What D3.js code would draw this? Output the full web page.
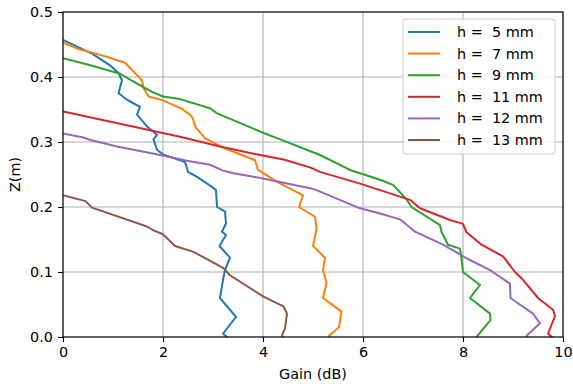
<!DOCTYPE html>
<html>
<head>
<meta charset="utf-8">
<script src="https://cdn.jsdelivr.net/npm/d3@7"></script>
<style>
  body { margin: 0; background: #fff; }
  text { font-family: "DejaVu Sans", sans-serif; }
</style>
</head>
<body>
<script>
// Figure size and plot area
var width = 573,
    height = 386;
var margin = {left: 63, right: 10, top: 12, bottom: 49};
var fontSize = "14.4px";

// Series labels (h in mm) and colours
var labels = ["h =  5 mm", "h =  7 mm", "h =  9 mm", "h =  11 mm", "h =  12 mm", "h =  13 mm"];
var colors = ["#1f77b4", "#ff7f0e", "#2ca02c", "#d62728", "#9467bd", "#8c564b"];

// Each series: [gain (dB), Z (m)]
var h5 = [[0,0.457],[0.58,0.436],[0.94,0.418],[1.11,0.406],[1.18,0.395],[1.11,0.375],[1.28,0.365],
  [1.54,0.354],[1.48,0.342],[1.68,0.324],[1.88,0.311],[1.81,0.304],[1.88,0.288],[2.0,0.281],
  [2.44,0.269],[2.48,0.26],[2.5,0.254],[2.69,0.246],[2.98,0.231],[3.06,0.226],[3.08,0.2],
  [3.24,0.193],[3.26,0.175],[3.18,0.162],[3.26,0.157],[3.13,0.14],[3.34,0.122],[3.24,0.103],
  [3.2,0.088],[3.14,0.06],[3.46,0.031],[3.2,0.005],[3.28,0]];
var h7 = [[0,0.453],[0.31,0.443],[0.88,0.431],[1.24,0.422],[1.58,0.395],[1.61,0.383],[1.71,0.37],
  [2.0,0.364],[2.38,0.351],[2.54,0.342],[2.59,0.337],[2.65,0.323],[2.84,0.306],[3.18,0.292],
  [3.84,0.272],[3.9,0.257],[4.3,0.238],[4.8,0.218],[4.72,0.2],[5.04,0.185],[5.07,0.168],
  [5.06,0.162],[5.0,0.14],[5.24,0.122],[5.2,0.103],[5.27,0.083],[5.2,0.06],[5.57,0.039],
  [5.52,0.015],[5.34,0.003],[5.3,0]];
var h9 = [[0,0.429],[0.55,0.418],[1.14,0.405],[1.41,0.393],[1.78,0.377],[2.0,0.37],[2.34,0.366],
  [2.94,0.352],[3.08,0.344],[4.04,0.313],[4.28,0.306],[5.14,0.28],[5.74,0.257],[6.34,0.242],
  [6.6,0.234],[6.87,0.212],[6.97,0.2],[7.54,0.172],[7.57,0.162],[7.7,0.142],[7.94,0.136],
  [7.97,0.121],[8.0,0.1],[8.34,0.08],[8.14,0.06],[8.54,0.036],[8.55,0.026],[8.27,0]];
var h11 = [[0,0.347],[2.34,0.308],[3.14,0.293],[3.94,0.28],[4.41,0.273],[4.94,0.261],[5.14,0.254],
  [5.94,0.236],[6.94,0.211],[7.14,0.198],[7.74,0.18],[8.0,0.174],[8.07,0.161],[8.37,0.142],
  [8.8,0.124],[9.04,0.1],[9.2,0.088],[9.5,0.06],[9.8,0.042],[9.84,0.032],[9.7,0.005],[9.78,0]];
var h12 = [[0,0.313],[0.41,0.307],[0.55,0.303],[1.08,0.293],[1.94,0.28],[2.48,0.271],[2.94,0.265],
  [3.2,0.256],[3.41,0.252],[4.0,0.244],[4.94,0.229],[5.07,0.226],[5.94,0.198],[6.34,0.19],
  [6.74,0.181],[7.04,0.162],[7.6,0.142],[8.1,0.12],[8.54,0.103],[8.94,0.082],[8.95,0.06],
  [9.4,0.036],[9.54,0.021],[9.27,0.002],[9.3,0]];
var h13 = [[0,0.218],[0.45,0.209],[0.58,0.199],[1.68,0.17],[1.81,0.164],[2.0,0.158],[2.24,0.14],
  [2.61,0.131],[3.21,0.106],[3.34,0.095],[4.01,0.062],[4.41,0.047],[4.48,0.036],[4.44,0.013],
  [4.38,0.003],[4.4,0]];
var series = [h5, h7, h9, h11, h12, h13];

// Tick values
var xTicks = [0, 2, 4, 6, 8, 10];
var yTicks = [0.0, 0.1, 0.2, 0.3, 0.4, 0.5];

var x = d3.scaleLinear().domain([0, 10]).range([margin.left, width - margin.right]);
var y = d3.scaleLinear().domain([0, 0.5]).range([height - margin.bottom, margin.top]);

var svg = d3.select("body").append("svg")
    .attr("width", width)
    .attr("height", height);

// Grid lines
svg.append("g")
    .selectAll("line")
    .data(xTicks)
    .enter()
    .append("line")
    .attr("x1", d => x(d)).attr("x2", d => x(d))
    .attr("y1", y(0)).attr("y2", y(0.5))
    .attr("stroke", "#b0b0b0")
    .attr("stroke-width", 1.1);
svg.append("g")
    .selectAll("line")
    .data(yTicks)
    .enter()
    .append("line")
    .attr("x1", x(0)).attr("x2", x(10))
    .attr("y1", d => y(d)).attr("y2", d => y(d))
    .attr("stroke", "#b0b0b0")
    .attr("stroke-width", 1.1);

// Clip the lines to the axes box
svg.append("clipPath")
    .attr("id", "plot")
    .append("rect")
    .attr("x", x(0)).attr("y", y(0.5))
    .attr("width", x(10) - x(0)).attr("height", y(0) - y(0.5));

var line = d3.line()
    .x(d => x(d[0]))
    .y(d => y(d[1]));

svg.append("g")
    .attr("clip-path", "url(#plot)")
    .selectAll("path")
    .data(series)
    .enter()
    .append("path")
    .attr("fill", "none")
    .attr("stroke", (d, i) => colors[i])
    .attr("stroke-width", 2)
    .attr("stroke-linejoin", "round")
    .attr("stroke-linecap", "square")
    .attr("d", line);

// Axes
var xAxis = svg.append("g")
    .attr("transform", "translate(0," + y(0) + ")")
    .call(d3.axisBottom(x).tickValues(xTicks).tickFormat(d3.format("d")).tickSize(5).tickPadding(5));
var yAxis = svg.append("g")
    .attr("transform", "translate(" + x(0) + ",0)")
    .call(d3.axisLeft(y).tickValues(yTicks).tickFormat(d3.format(".1f")).tickSize(5).tickPadding(5));

[xAxis, yAxis].forEach(function(a) {
    a.select(".domain").remove();
    a.selectAll("line").attr("stroke", "#000").attr("stroke-width", 1.1);
    a.selectAll("text")
        .attr("font-size", fontSize)
        .attr("fill", "#000")
        .style("font-family", "DejaVu Sans, sans-serif");
});

// Frame
svg.append("rect")
    .attr("x", x(0)).attr("y", y(0.5))
    .attr("width", x(10) - x(0)).attr("height", y(0) - y(0.5))
    .attr("fill", "none")
    .attr("stroke", "#000")
    .attr("stroke-width", 1.1);

// Axis labels
svg.append("text")
    .attr("x", (x(0) + x(10)) / 2)
    .attr("y", 379)
    .attr("text-anchor", "middle")
    .attr("font-size", fontSize)
    .text("Gain (dB)");

svg.append("text")
    .attr("transform", "translate(20," + (y(0) + y(0.5)) / 2 + ") rotate(-90)")
    .attr("text-anchor", "middle")
    .attr("font-size", fontSize)
    .text("Z(m)");

// Legend
var legend = svg.append("g").attr("transform", "translate(403,19)");
legend.append("rect")
    .attr("width", 152)
    .attr("height", 135)
    .attr("rx", 3)
    .attr("fill", "#fff")
    .attr("fill-opacity", 0.8)
    .attr("stroke", "#cccccc")
    .attr("stroke-width", 1);

var rows = legend.selectAll("g.row")
    .data(labels)
    .enter()
    .append("g")
    .attr("class", "row")
    .attr("transform", (d, i) => "translate(0," + (13 + i * 21.6) + ")");
rows.append("line")
    .attr("x1", 5).attr("x2", 37)
    .attr("stroke", (d, i) => colors[i])
    .attr("stroke-width", 2);
rows.append("text")
    .attr("x", 54)
    .attr("y", 5)
    .attr("font-size", fontSize)
    .style("white-space", "pre")
    .text(d => d);
</script>
</body>
</html>
